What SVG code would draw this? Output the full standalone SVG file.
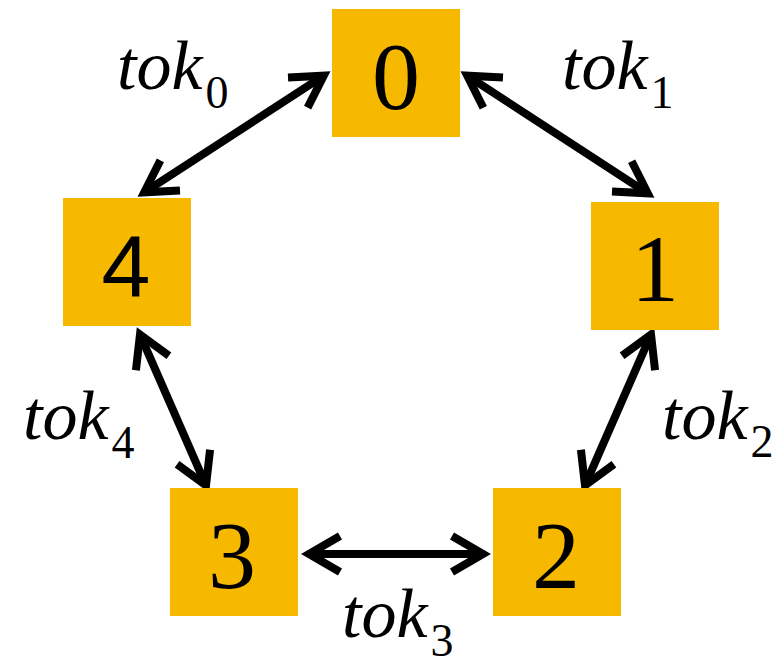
<svg xmlns="http://www.w3.org/2000/svg" width="779" height="666" viewBox="0 0 779 666">
<defs>
<style>
.box{fill:#F6B900}
.conn{stroke:#000;stroke-width:8;fill:none;marker-start:url(#ah);marker-end:url(#ah)}
.serif{font-family:"Liberation Serif",Tinos,"Times New Roman","Noto Serif","DejaVu Serif",FreeSerif,"Nimbus Roman",Times,serif}
.sub{font-size:46px;font-style:normal}
</style>
<marker id="ah" markerUnits="userSpaceOnUse" markerWidth="80" markerHeight="80" refX="0" refY="0" orient="auto-start-reverse" overflow="visible">
<path d="M-31,-18 L0,0 L-31,18" fill="none" stroke="#000" stroke-width="8" stroke-linejoin="miter"/>
</marker>
</defs>
<rect width="779" height="666" fill="#fff"/>
<g id="connectors">
<line class="conn" x1="144.2" y1="192.3" x2="323.8" y2="75.7"/>
<line class="conn" x1="467.2" y1="75.7" x2="647.8" y2="193.3"/>
<line class="conn" x1="140" y1="334.6" x2="206" y2="485.4"/>
<line class="conn" x1="651" y1="334.6" x2="585" y2="485.4"/>
<line class="conn" x1="309" y1="554" x2="483" y2="554"/>
</g>
<g class="serif" font-size="96" text-anchor="middle" fill="#000">
<g id="node0"><rect class="box" x="332" y="9" width="128" height="128"/><text x="396" y="109">0</text></g>
<g id="node1"><rect class="box" x="591" y="202" width="128" height="128"/><text x="655" y="301">1</text></g>
<g id="node2"><rect class="box" x="493" y="488" width="128" height="128"/><text x="556" y="588">2</text></g>
<g id="node3"><rect class="box" x="170" y="488" width="128" height="128"/><text x="232" y="588">3</text></g>
<g id="node4"><rect class="box" x="63" y="198" width="128" height="128"/><text x="126" y="297" font-family="Liberation Sans, Arial, sans-serif" font-size="88">4</text></g>
</g>
<g id="labels" class="serif" font-size="70" font-style="italic" fill="#000">
<text x="117" y="89">tok<tspan class="sub" dx="3" dy="19">0</tspan></text>
<text x="562" y="89">tok<tspan class="sub" dx="3" dy="19">1</tspan></text>
<text x="662" y="439">tok<tspan class="sub" dx="3" dy="18">2</tspan></text>
<text x="342" y="637">tok<tspan class="sub" dx="3" dy="19">3</tspan></text>
<text x="23" y="439">tok<tspan class="sub" dx="3" dy="19">4</tspan></text>
</g>
</svg>
